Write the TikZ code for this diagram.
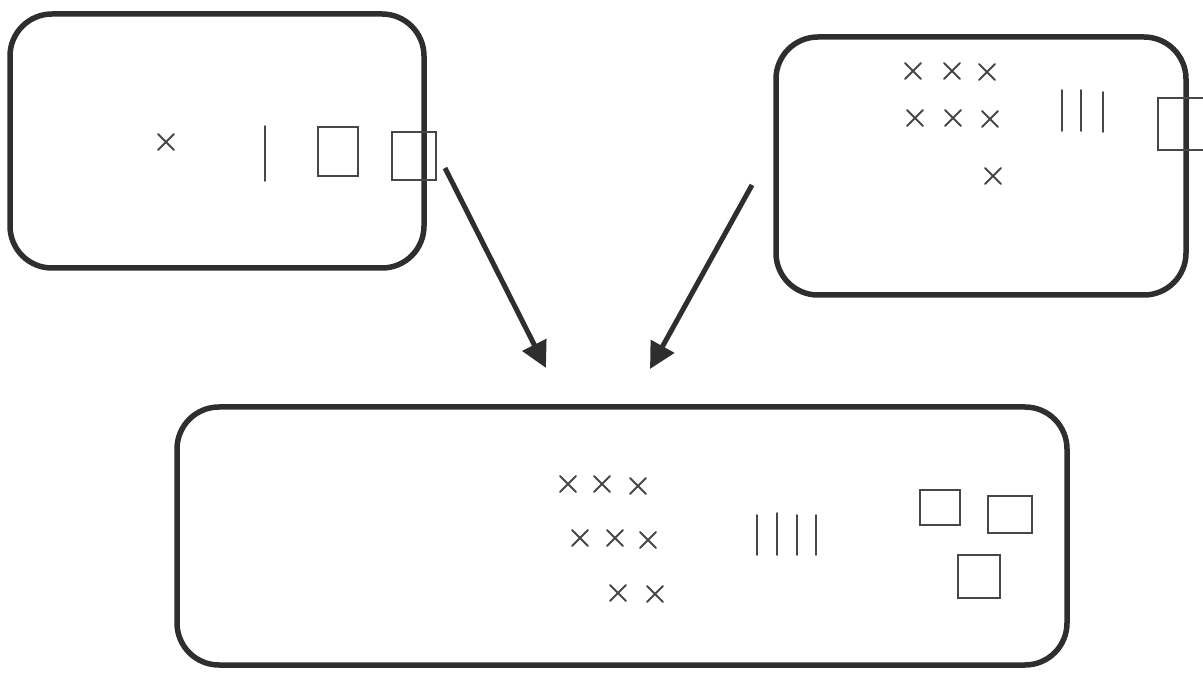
\documentclass[tikz,border=0pt]{standalone}
\usetikzlibrary{arrows.meta}
\begin{document}
\begin{tikzpicture}[x=1pt,y=-1pt,
  framebox/.style={draw=black!82, line width=5.5pt, rounded corners=42pt, inner sep=0pt},
  arr/.style={draw=black!82, line width=5pt, -{Triangle[length=26pt,width=26pt]}},
  blk/.style={draw=black!72, line width=1.8pt, line cap=round}]
\useasboundingbox (0,0) rectangle (1203,676);
% frames
\node[framebox, minimum width=414pt, minimum height=254pt] (L) at (217,141) {};
\node[framebox, minimum width=410pt, minimum height=258pt] (R) at (981,166) {};
\node[framebox, minimum width=890pt, minimum height=258pt] (B) at (622,536) {};
% arrows
\coordinate (a1s) at (445,168);
\coordinate (a1e) at (546,368);
\coordinate (a2s) at (752,185);
\coordinate (a2e) at (650,369);
\draw[arr] (a1s) -- (a1e);
\draw[arr] (a2s) -- (a2e);
% left box: 1 unit, 1 rod, 2 flats
\newcommand\unitmark[2]{\draw[blk] (#1,#2) +(-8,-8) -- +(8,8) +(-8,8) -- +(8,-8);}
\newcommand\rodmark[3]{\draw[blk] (#1,#2) -- (#1,#3);}
\newcommand\flatmark[4]{\draw[blk] (#1,#2) rectangle (#3,#4);}
\unitmark{166}{142}
\rodmark{265}{126}{181}
\flatmark{318}{127}{358}{176}
\flatmark{392}{132}{436}{180}
% right box: 7 units, 3 rods, 1 flat
\unitmark{913}{71}
\unitmark{952}{71}
\unitmark{987}{72}
\unitmark{915}{118}
\unitmark{953}{118}
\unitmark{990}{119}
\unitmark{993}{176}
\rodmark{1062}{90}{131}
\rodmark{1081}{90}{131}
\rodmark{1103}{92}{132}
\flatmark{1158}{98}{1215}{150}
% bottom box: 8 units, 4 rods, 3 flats
\unitmark{568}{484}
\unitmark{602}{484}
\unitmark{638}{486}
\unitmark{580}{538}
\unitmark{615}{538}
\unitmark{648}{540}
\unitmark{618}{593}
\unitmark{655}{594}
\rodmark{757}{515}{555}
\rodmark{777}{513}{555}
\rodmark{797}{515}{555}
\rodmark{816}{515}{555}
\flatmark{920}{490}{960}{525}
\flatmark{988}{496}{1032}{533}
\flatmark{958}{555}{1000}{598}
\end{tikzpicture}
\end{document}
